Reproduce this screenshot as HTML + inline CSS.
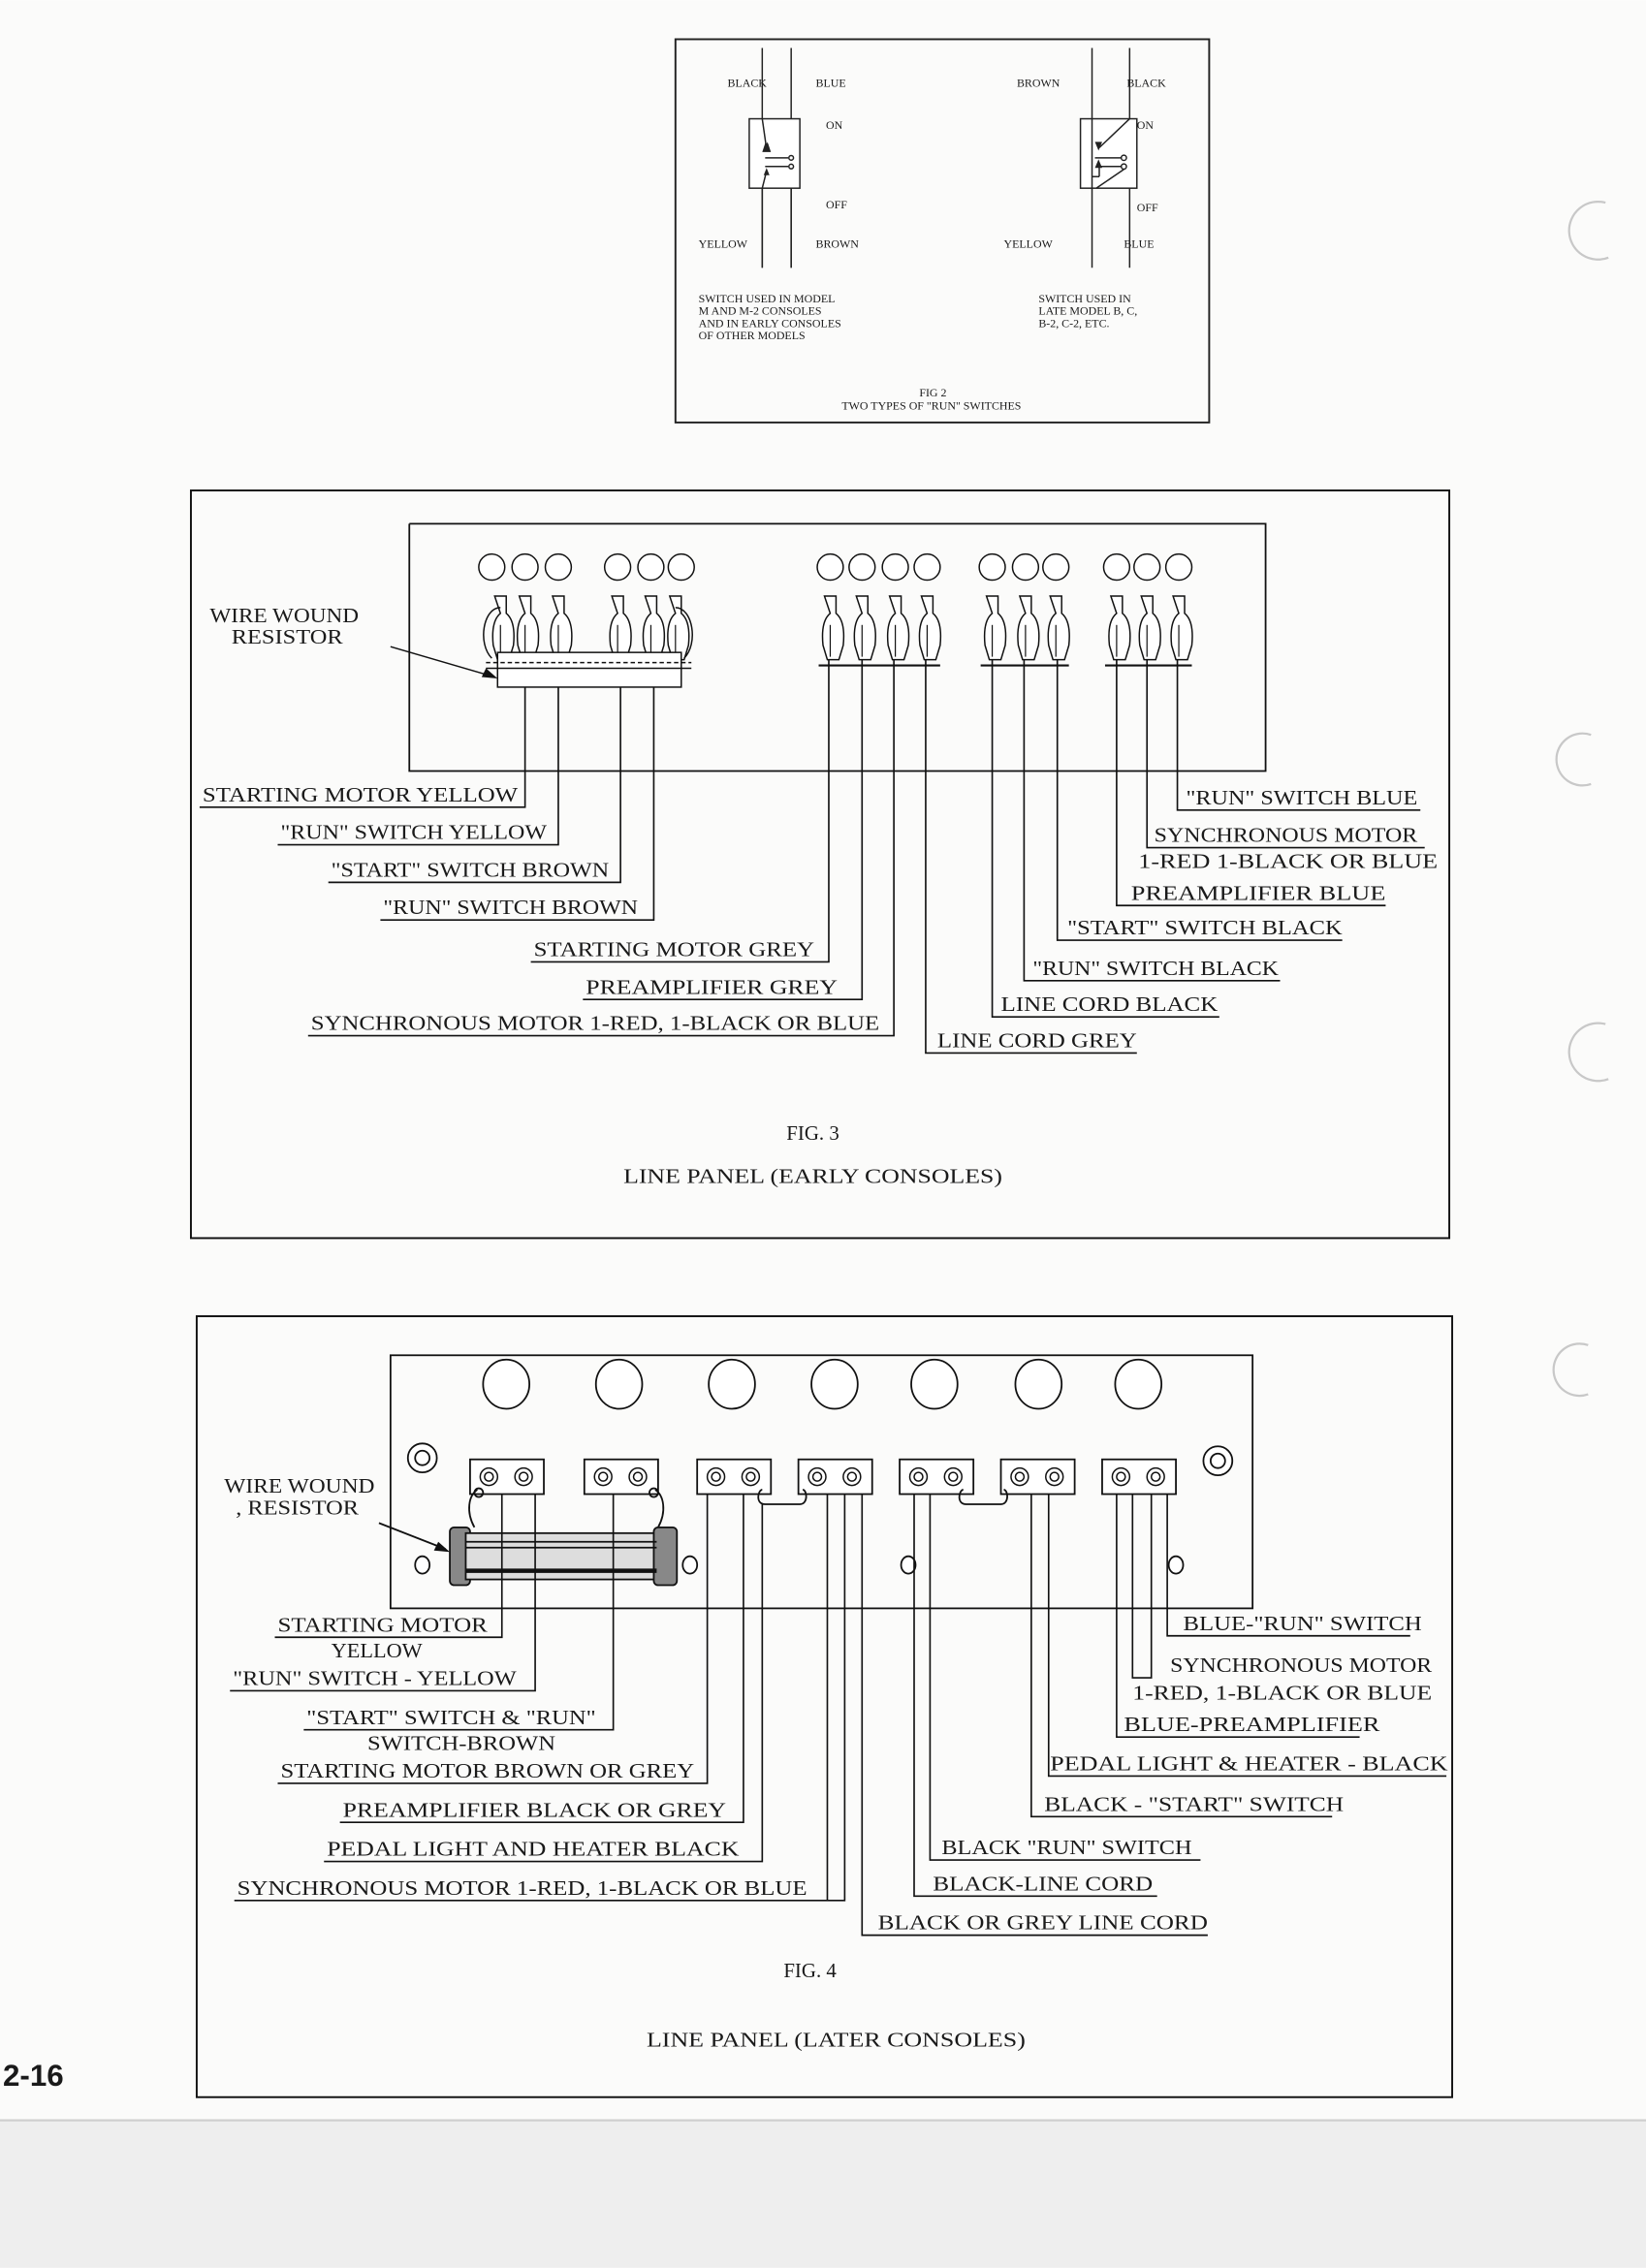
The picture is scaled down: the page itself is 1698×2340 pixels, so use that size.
<!DOCTYPE html>
<html><head><meta charset="utf-8"><style>
html,body{margin:0;padding:0;background:#fff;}
svg{display:block;}
text{font-family:"Liberation Serif",serif;fill:#1a1a1a;}
.l{font-size:14px;}
.s{font-size:8px;}
</style></head><body>
<svg width="1698" height="2340" viewBox="0 0 1138 1568" xmlns="http://www.w3.org/2000/svg">
<rect x="0" y="0" width="1138" height="1568" fill="#fbfbfa"/>
<rect x="0" y="1466" width="1138" height="102" fill="#eeeeee"/>
<line x1="0" y1="1466" x2="1138" y2="1466" stroke="#cfcfcf" stroke-width="1.5"/>
<g fill="none" stroke="#c8c8c8" stroke-width="1.5">
<path d="M1110 140 A20 20 0 1 0 1112 178"/>
<path d="M1100 508 A18 18 0 1 0 1100 542"/>
<path d="M1110 708 A20 20 0 1 0 1112 746"/>
<path d="M1098 930 A18 18 0 1 0 1098 964"/>
</g>
<text x="2" y="1442" style="font-family:'Liberation Sans',sans-serif;font-weight:bold;font-size:21px" fill="#111">2-16</text>

<!-- FIG 2 -->
<g stroke="#222" fill="none" stroke-width="1">
<rect x="467" y="27" width="369" height="265" stroke-width="1.3"/>
<line x1="527" y1="33" x2="527" y2="185"/><line x1="547" y1="33" x2="547" y2="185"/>
<rect x="518" y="82" width="35" height="48" fill="#fff"/>
<line x1="527" y1="82" x2="530" y2="103"/><line x1="527" y1="130" x2="530" y2="118"/>
<line x1="529" y1="109" x2="545" y2="109"/><line x1="529" y1="115" x2="545" y2="115"/>
<circle cx="547" cy="109" r="1.6" fill="#fff"/><circle cx="547" cy="115" r="1.6" fill="#fff"/>
<line x1="527" y1="130" x2="527" y2="185"/><line x1="547" y1="130" x2="547" y2="185"/>
<line x1="755" y1="33" x2="755" y2="185"/><line x1="781" y1="33" x2="781" y2="185"/>
<rect x="747" y="82" width="39" height="48" fill="#fff"/>
<line x1="755" y1="82" x2="755" y2="130"/>
<line x1="781" y1="82" x2="760" y2="102"/>
<line x1="757" y1="109" x2="775" y2="109"/><line x1="760" y1="115" x2="775" y2="115"/>
<circle cx="777" cy="109" r="1.8" fill="#fff"/><circle cx="777" cy="115" r="1.8" fill="#fff"/>
<line x1="777" y1="117" x2="758" y2="130"/>
<line x1="760" y1="115" x2="760" y2="122"/><line x1="755" y1="122" x2="760" y2="122"/>
</g>
<g fill="#222">
<polygon points="527,105 533,105 531,99 529,99"/>
<path d="M528 104 l4 0 l-1.5 -6z"/>
<path d="M528 117 l4 0 l-2 5z" transform="rotate(180 530 119)"/>
<path d="M757 104 l5 0 l-2.5 -6z" transform="rotate(180 759.5 101)"/>
<path d="M757 116 l5 0 l-2.5 -6z"/>
</g>
<g class="s">
<text x="503" y="60">BLACK</text><text x="564" y="60">BLUE</text>
<text x="571" y="89">ON</text><text x="571" y="144">OFF</text>
<text x="483" y="171">YELLOW</text><text x="564" y="171">BROWN</text>
<text x="483" y="209">SWITCH USED IN MODEL</text>
<text x="483" y="217.5">M AND M-2 CONSOLES</text>
<text x="483" y="226">AND IN EARLY CONSOLES</text>
<text x="483" y="234.5">OF OTHER MODELS</text>
<text x="703" y="60">BROWN</text><text x="779" y="60">BLACK</text>
<text x="786" y="89">ON</text><text x="786" y="146">OFF</text>
<text x="694" y="171">YELLOW</text><text x="777" y="171">BLUE</text>
<text x="718" y="209">SWITCH USED IN</text>
<text x="718" y="217.5">LATE MODEL B, C,</text>
<text x="718" y="226">B-2, C-2, ETC.</text>
<text x="645" y="274" text-anchor="middle">FIG 2</text>
<text x="644" y="283" text-anchor="middle">TWO TYPES OF "RUN" SWITCHES</text>
</g>

<!-- FIG 3 -->
<g stroke="#111" fill="none" stroke-width="1.3">
<rect x="132" y="339" width="870" height="517"/>
<polyline points="283,362 875,362 875,533 283,533 283,362" stroke-width="1.2"/>
</g>
<g stroke="#111" fill="#fff" stroke-width="1">
<circle cx="340" cy="392" r="9"/><circle cx="363" cy="392" r="9"/><circle cx="386" cy="392" r="9"/>
<circle cx="427" cy="392" r="9"/><circle cx="450" cy="392" r="9"/><circle cx="471" cy="392" r="9"/>
<circle cx="574" cy="392" r="9"/><circle cx="596" cy="392" r="9"/><circle cx="619" cy="392" r="9"/><circle cx="641" cy="392" r="9"/>
<circle cx="686" cy="392" r="9"/><circle cx="709" cy="392" r="9"/><circle cx="730" cy="392" r="9"/>
<circle cx="772" cy="392" r="9"/><circle cx="793" cy="392" r="9"/><circle cx="815" cy="392" r="9"/>
</g>
<defs>
<g id="lug"><path d="M-4 0 h8 v12 c5 4 6 12 5 22 l-3 10 h-8 l-3 -10 c-1 -10 0 -18 5 -22z" fill="#fff" stroke="#111" stroke-width="1"/><line x1="0" y1="20" x2="0" y2="42" stroke="#111" stroke-width="0.8"/></g>
</defs>
<g>
<use href="#lug" x="346" y="412"/><use href="#lug" x="363" y="412"/><use href="#lug" x="386" y="412"/>
<use href="#lug" x="427" y="412"/><use href="#lug" x="450" y="412"/><use href="#lug" x="467" y="412"/>
<use href="#lug" x="574" y="412"/><use href="#lug" x="596" y="412"/><use href="#lug" x="619" y="412"/><use href="#lug" x="641" y="412"/>
<use href="#lug" x="686" y="412"/><use href="#lug" x="709" y="412"/><use href="#lug" x="730" y="412"/>
<use href="#lug" x="772" y="412"/><use href="#lug" x="793" y="412"/><use href="#lug" x="815" y="412"/>
</g>
<g stroke="#111" fill="none" stroke-width="1">
<path d="M346 420 c-12 0 -16 25 -6 35"/><path d="M467 420 c12 0 16 25 6 35"/>
<rect x="344" y="451" width="127" height="24" fill="#fff"/>
<line x1="336" y1="458" x2="478" y2="458" stroke-dasharray="3 2"/>
<line x1="336" y1="462" x2="478" y2="462"/>
<line x1="566" y1="460" x2="650" y2="460" stroke-width="1.5"/>
<line x1="678" y1="460" x2="739" y2="460" stroke-width="1.5"/>
<line x1="764" y1="460" x2="824" y2="460" stroke-width="1.5"/>
<line x1="270" y1="447" x2="342" y2="468"/>
</g>
<polygon points="344,469 333,468 336,462" fill="#111"/>
<text class="l" x="145" y="430" textLength="103" lengthAdjust="spacingAndGlyphs">WIRE WOUND</text>
<text class="l" x="160" y="445" textLength="77" lengthAdjust="spacingAndGlyphs">RESISTOR</text>

<g stroke="#111" fill="none" stroke-width="1.1">
<polyline points="363,475 363,558 138,558"/>
<polyline points="386,475 386,584 192,584"/>
<polyline points="429,475 429,610 227,610"/>
<polyline points="452,475 452,636 263,636"/>
<polyline points="573,456 573,665 367,665"/>
<polyline points="596,456 596,691 403,691"/>
<polyline points="618,456 618,716 213,716"/>
<polyline points="640,456 640,728 786,728"/>
<polyline points="686,456 686,703 843,703"/>
<polyline points="708,456 708,678 885,678"/>
<polyline points="731,456 731,650 928,650"/>
<polyline points="772,456 772,626 958,626"/>
<polyline points="793,456 793,586 985,586"/>
<polyline points="814,456 814,560 982,560"/>
</g>
<g class="l">
<text x="140" y="554" textLength="218" lengthAdjust="spacingAndGlyphs">STARTING MOTOR YELLOW</text>
<text x="194" y="580" textLength="184" lengthAdjust="spacingAndGlyphs">"RUN" SWITCH YELLOW</text>
<text x="229" y="606" textLength="192" lengthAdjust="spacingAndGlyphs">"START" SWITCH BROWN</text>
<text x="265" y="632" textLength="176" lengthAdjust="spacingAndGlyphs">"RUN" SWITCH BROWN</text>
<text x="369" y="661" textLength="194" lengthAdjust="spacingAndGlyphs">STARTING MOTOR GREY</text>
<text x="405" y="687" textLength="174" lengthAdjust="spacingAndGlyphs">PREAMPLIFIER GREY</text>
<text x="215" y="712" textLength="393" lengthAdjust="spacingAndGlyphs">SYNCHRONOUS MOTOR 1-RED, 1-BLACK OR BLUE</text>
<text x="648" y="724" textLength="138" lengthAdjust="spacingAndGlyphs">LINE CORD GREY</text>
<text x="692" y="699" textLength="150" lengthAdjust="spacingAndGlyphs">LINE CORD BLACK</text>
<text x="714" y="674" textLength="170" lengthAdjust="spacingAndGlyphs">"RUN" SWITCH BLACK</text>
<text x="738" y="646" textLength="190" lengthAdjust="spacingAndGlyphs">"START" SWITCH BLACK</text>
<text x="782" y="622" textLength="176" lengthAdjust="spacingAndGlyphs">PREAMPLIFIER BLUE</text>
<text x="798" y="582" textLength="182" lengthAdjust="spacingAndGlyphs">SYNCHRONOUS MOTOR</text>
<text x="787" y="600" textLength="207" lengthAdjust="spacingAndGlyphs">1-RED  1-BLACK OR BLUE</text>
<text x="820" y="556" textLength="160" lengthAdjust="spacingAndGlyphs">"RUN" SWITCH BLUE</text>
<text x="562" y="788" text-anchor="middle">FIG. 3</text>
<text x="562" y="818" text-anchor="middle" textLength="262" lengthAdjust="spacingAndGlyphs">LINE PANEL (EARLY CONSOLES)</text>
</g>

<!-- FIG 4 -->
<g stroke="#111" fill="none" stroke-width="1.3">
<rect x="136" y="910" width="868" height="540"/>
<rect x="270" y="937" width="596" height="175" stroke-width="1.2"/>
</g>
<g stroke="#111" fill="#fff" stroke-width="1.2">
<ellipse cx="350" cy="957" rx="16" ry="17"/><ellipse cx="428" cy="957" rx="16" ry="17"/>
<ellipse cx="506" cy="957" rx="16" ry="17"/><ellipse cx="577" cy="957" rx="16" ry="17"/>
<ellipse cx="646" cy="957" rx="16" ry="17"/><ellipse cx="718" cy="957" rx="16" ry="17"/>
<ellipse cx="787" cy="957" rx="16" ry="17"/>
<circle cx="292" cy="1008" r="10"/><circle cx="292" cy="1008" r="5"/>
<circle cx="842" cy="1010" r="10"/><circle cx="842" cy="1010" r="5"/>
<ellipse cx="292" cy="1082" rx="5" ry="6"/><ellipse cx="477" cy="1082" rx="5" ry="6"/>
<ellipse cx="628" cy="1082" rx="5" ry="6"/><ellipse cx="813" cy="1082" rx="5" ry="6"/>
</g>
<defs>
<g id="blk"><rect x="0" y="0" width="51" height="24" fill="#fff" stroke="#111" stroke-width="1.2"/>
<circle cx="13" cy="12" r="6" fill="#fff" stroke="#111"/><circle cx="13" cy="12" r="3" fill="none" stroke="#111"/>
<circle cx="37" cy="12" r="6" fill="#fff" stroke="#111"/><circle cx="37" cy="12" r="3" fill="none" stroke="#111"/></g>
</defs>
<use href="#blk" x="325" y="1009"/><use href="#blk" x="404" y="1009"/>
<use href="#blk" x="482" y="1009"/><use href="#blk" x="552" y="1009"/>
<use href="#blk" x="622" y="1009"/><use href="#blk" x="692" y="1009"/>
<use href="#blk" x="762" y="1009"/>
<g stroke="#111" fill="none" stroke-width="1.2">
<path d="M527 1030 c-3 0 -5 10 2 10 h24 c6 0 5 -10 2 -10"/>
<path d="M666 1030 c-3 0 -5 10 2 10 h24 c6 0 5 -10 2 -10"/>
<path d="M330 1030 c-6 4 -8 15 -2 26"/><path d="M453 1030 c6 4 8 15 2 26"/>
<circle cx="331" cy="1032" r="3"/><circle cx="452" cy="1032" r="3"/>
</g>
<g stroke="#111" stroke-width="1.2">
<rect x="311" y="1056" width="14" height="40" rx="3" fill="#888"/>
<rect x="322" y="1060" width="132" height="32" fill="#ddd"/>
<rect x="452" y="1056" width="16" height="40" rx="3" fill="#888"/>
<line x1="322" y1="1066" x2="454" y2="1066"/><line x1="322" y1="1070" x2="454" y2="1070"/>
<line x1="322" y1="1086" x2="454" y2="1086" stroke-width="3"/>
<line x1="262" y1="1053" x2="308" y2="1071" fill="none"/>
</g>
<polygon points="311,1073 300,1072 303,1066" fill="#111"/>
<text class="l" x="155" y="1032" textLength="104" lengthAdjust="spacingAndGlyphs">WIRE WOUND</text>
<text class="l" x="163" y="1047" textLength="85" lengthAdjust="spacingAndGlyphs">, RESISTOR</text>

<g stroke="#111" fill="none" stroke-width="1.1">
<polyline points="347,1033 347,1132 190,1132"/>
<polyline points="370,1033 370,1169 159,1169"/>
<polyline points="424,1033 424,1196 210,1196"/>
<polyline points="489,1033 489,1233 192,1233"/>
<polyline points="514,1033 514,1260 235,1260"/>
<polyline points="527,1040 527,1287 224,1287"/>
<polyline points="572,1033 572,1314"/>
<polyline points="584,1033 584,1314 162,1314"/>
<polyline points="596,1033 596,1338 835,1338"/>
<polyline points="632,1033 632,1311 800,1311"/>
<polyline points="643,1033 643,1286 830,1286"/>
<polyline points="713,1033 713,1256 921,1256"/>
<polyline points="725,1033 725,1228 1000,1228"/>
<polyline points="772,1033 772,1201 940,1201"/>
<polyline points="783,1033 783,1160 796,1160 796,1033"/>
<polyline points="807,1033 807,1131 975,1131"/>
</g>
<g class="l">
<text x="192" y="1128" textLength="145" lengthAdjust="spacingAndGlyphs">STARTING MOTOR</text>
<text x="229" y="1146" textLength="63" lengthAdjust="spacingAndGlyphs">YELLOW</text>
<text x="161" y="1165" textLength="196" lengthAdjust="spacingAndGlyphs">"RUN" SWITCH - YELLOW</text>
<text x="212" y="1192" textLength="200" lengthAdjust="spacingAndGlyphs">"START" SWITCH &amp; "RUN"</text>
<text x="254" y="1210" textLength="130" lengthAdjust="spacingAndGlyphs">SWITCH-BROWN</text>
<text x="194" y="1229" textLength="286" lengthAdjust="spacingAndGlyphs">STARTING MOTOR BROWN OR GREY</text>
<text x="237" y="1256" textLength="265" lengthAdjust="spacingAndGlyphs">PREAMPLIFIER BLACK OR GREY</text>
<text x="226" y="1283" textLength="285" lengthAdjust="spacingAndGlyphs">PEDAL LIGHT AND HEATER BLACK</text>
<text x="164" y="1310" textLength="394" lengthAdjust="spacingAndGlyphs">SYNCHRONOUS MOTOR 1-RED, 1-BLACK OR BLUE</text>
<text x="818" y="1127" textLength="165" lengthAdjust="spacingAndGlyphs">BLUE-"RUN" SWITCH</text>
<text x="809" y="1156" textLength="181" lengthAdjust="spacingAndGlyphs">SYNCHRONOUS MOTOR</text>
<text x="783" y="1175" textLength="207" lengthAdjust="spacingAndGlyphs">1-RED, 1-BLACK OR BLUE</text>
<text x="777" y="1197" textLength="177" lengthAdjust="spacingAndGlyphs">BLUE-PREAMPLIFIER</text>
<text x="726" y="1224" textLength="275" lengthAdjust="spacingAndGlyphs">PEDAL LIGHT &amp; HEATER - BLACK</text>
<text x="722" y="1252" textLength="207" lengthAdjust="spacingAndGlyphs">BLACK - "START" SWITCH</text>
<text x="651" y="1282" textLength="173" lengthAdjust="spacingAndGlyphs">BLACK "RUN" SWITCH</text>
<text x="645" y="1307" textLength="152" lengthAdjust="spacingAndGlyphs">BLACK-LINE CORD</text>
<text x="607" y="1334" textLength="228" lengthAdjust="spacingAndGlyphs">BLACK OR GREY LINE CORD</text>
<text x="560" y="1367" text-anchor="middle">FIG. 4</text>
<text x="578" y="1415" text-anchor="middle" textLength="262" lengthAdjust="spacingAndGlyphs">LINE PANEL (LATER CONSOLES)</text>
</g>
</svg>
</body></html>
